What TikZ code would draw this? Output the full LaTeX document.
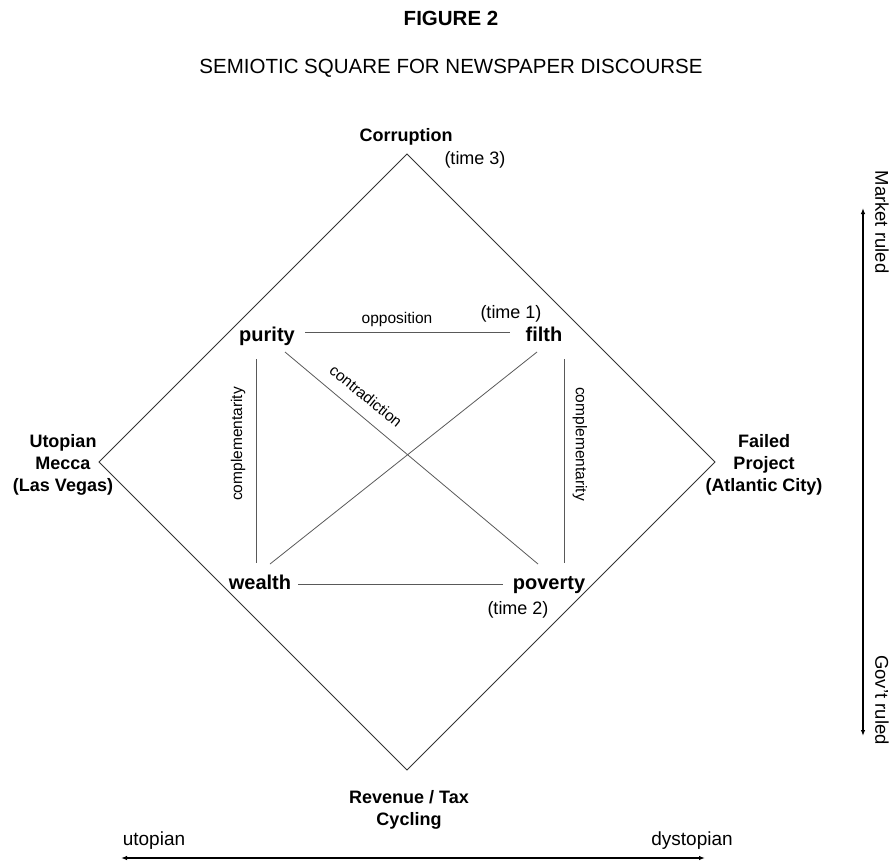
\documentclass[tikz,border=0pt]{standalone}
\usepackage{fontspec}
\setmainfont{Liberation Sans}
\usetikzlibrary{arrows.meta}
\begin{document}
\begin{tikzpicture}[x=1pt,y=-1pt,
  every node/.style={inner sep=0pt},
  ttl/.style={font=\fontsize{20.5}{24}\selectfont},
  term/.style={font=\fontsize{20}{24}\selectfont\bfseries,anchor=base},
  corner/.style={font=\fontsize{18}{22}\selectfont\bfseries,align=center},
  tlab/.style={font=\fontsize{18}{22}\selectfont},
  rel/.style={font=\fontsize{15.5}{18}\selectfont},
  sq/.style={draw=black!80,line width=1pt},
  inner/.style={draw=black!65,line width=0.8pt},
  axis/.style={draw=black,line width=1.4pt,{Latex[length=6pt,width=4.5pt]}-{Latex[length=6pt,width=4.5pt]}}]
\useasboundingbox (0,0) rectangle (894,863);
% titles
\node[ttl,font=\fontsize{20.5}{24}\selectfont\bfseries,anchor=base] (fig) at (451,25) {FIGURE 2};
\node[ttl,anchor=base] (sub) at (451,73) {SEMIOTIC SQUARE FOR NEWSPAPER DISCOURSE};
% diamond
\coordinate (T) at (407,154);
\coordinate (R) at (715,462);
\coordinate (B) at (407,770);
\coordinate (L) at (99,462);
\draw[sq] (T) -- (R) -- (B) -- (L) -- cycle;
% corner labels
\node[corner,anchor=base] (corr) at (406,141) {Corruption};
\node[tlab,anchor=base] (t3) at (475,164) {(time 3)};
\node[corner] (utop) at (63,465) {Utopian\\Mecca\\(Las Vegas)};
\node[corner] (fail) at (764,465) {Failed\\Project\\(Atlantic City)};
\node[corner] (rev) at (409,810) {Revenue / Tax\\Cycling};
% terms
\node[term] (purity) at (267,341) {purity};
\node[term] (filth) at (544,341) {filth};
\node[term] (wealth) at (260,589) {wealth};
\node[term] (poverty) at (549,589) {poverty};
\node[tlab,anchor=base] (t1) at (511,318) {(time 1)};
\node[tlab,anchor=base] (t2) at (518,614) {(time 2)};
% inner relations
\coordinate (op1) at (305,332);
\coordinate (op2) at (510,332);
\coordinate (wp1) at (298,584);
\coordinate (wp2) at (503,584);
\coordinate (lv1) at (256,359);
\coordinate (lv2) at (256,563);
\coordinate (rv1) at (564,359);
\coordinate (rv2) at (564,563);
\coordinate (pp1) at (285,352);
\coordinate (pp2) at (538,564);
\coordinate (fw1) at (537,352);
\coordinate (fw2) at (270,564);
\draw[inner] (op1) -- (op2);
\draw[inner] (wp1) -- (wp2);
\draw[inner] (lv1) -- (lv2);
\draw[inner] (rv1) -- (rv2);
\draw[inner] (pp1) -- (pp2);
\draw[inner] (fw1) -- (fw2);
\node[rel,anchor=base] (opp) at (397,323) {opposition};
\node[rel,rotate=-39] (contra) at (366,396) {contradiction};
\node[rel,rotate=90] (compL) at (238,444) {complementarity};
\node[rel,rotate=-90] (compR) at (580,444) {complementarity};
% vertical axis
\coordinate (vtop) at (863,208);
\coordinate (vbot) at (863,736);
\draw[axis] (vtop) -- (vbot);
\node[tlab,rotate=-90,font=\fontsize{18.5}{22}\selectfont] (mkt) at (882,222) {Market ruled};
\node[tlab,rotate=-90,font=\fontsize{18.5}{22}\selectfont] (gov) at (882,700) {Gov't ruled};
% horizontal axis
\coordinate (hl) at (121,858);
\coordinate (hr) at (705,858);
\draw[axis] (hl) -- (hr);
\node[tlab,font=\fontsize{19}{22}\selectfont,anchor=base] (uto) at (154,845) {utopian};
\node[tlab,font=\fontsize{19}{22}\selectfont,anchor=base] (dys) at (692,845) {dystopian};
\end{tikzpicture}
\end{document}
